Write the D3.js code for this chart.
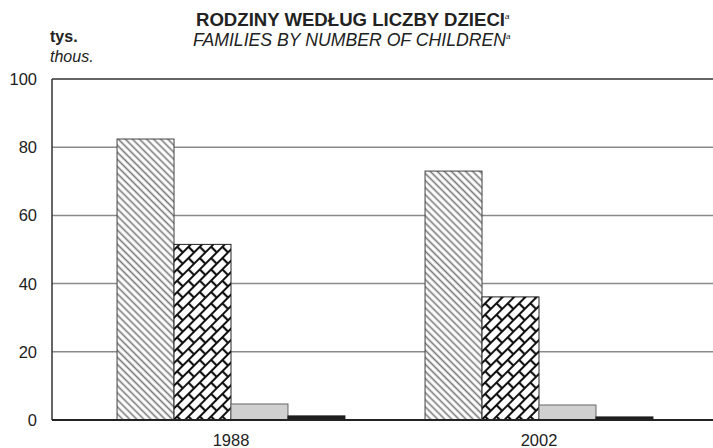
<!DOCTYPE html>
<html>
<head>
<meta charset="utf-8">
<script src="https://cdn.jsdelivr.net/npm/d3@7"></script>
<style>
  body { margin: 0; background: #fff; }
  svg { display: block; font-family: "Liberation Sans", Arial, sans-serif; }
</style>
</head>
<body>
<svg id="chart" width="713" height="448"></svg>
<script>
// data
var years = ['1988', '2002'];
var groups = ['a', 'b', 'c', 'd']; // number-of-children groups (patterns)
var values1988 = [82.4, 51.5, 4.7, 1.2];
var values2002 = [73.0, 36.1, 4.4, 0.9];
var yTicks = [0, 20, 40, 60, 80, 100];

var svg = d3.select('#chart');
var W = 713, H = 448;
var plotLeft = 52, plotTop = 79, plotBottom = 420;

var y = d3.scaleLinear().domain([0, 100]).range([plotBottom, plotTop]);
var x0 = d3.scaleBand().domain(years).range([77, 693]).paddingInner(0.26).paddingOuter(0.13);
var x1 = d3.scaleBand().domain(groups).range([0, x0.bandwidth()]);

// patterns
var defs = svg.append('defs');
var hatch = defs.append('pattern')
  .attr('id', 'hatch')
  .attr('patternUnits', 'userSpaceOnUse')
  .attr('width', 5).attr('height', 5)
  .attr('patternTransform', 'rotate(45)');
hatch.append('rect').attr('width', 5).attr('height', 5).attr('fill', '#fff');
hatch.append('line')
  .attr('x1', 0).attr('y1', 2.5).attr('x2', 5).attr('y2', 2.5)
  .attr('stroke', '#777').attr('stroke-width', 1.6);

var brick = defs.append('pattern')
  .attr('id', 'brick')
  .attr('patternUnits', 'userSpaceOnUse')
  .attr('width', 16).attr('height', 16)
  .attr('patternTransform', 'rotate(-45)');
brick.append('rect').attr('width', 16).attr('height', 16).attr('fill', '#fff');
brick.append('path')
  .attr('d', 'M0,1 H16 M0,9 H16 M4,1 V9 M12,9 V17')
  .attr('stroke', '#111').attr('stroke-width', 2.2).attr('fill', 'none');

var fills = { a: 'url(#hatch)', b: 'url(#brick)', c: '#d0d0d0', d: '#1e1e1e' };
var strokes = { a: '#444', b: '#222', c: '#666', d: '#1e1e1e' };

// grid
svg.append('g').selectAll('line')
  .data(yTicks.filter(function(d){ return d > 0 && d < 100; }))
  .enter().append('line')
  .attr('x1', plotLeft).attr('x2', W)
  .attr('y1', function(d){ return y(d); })
  .attr('y2', function(d){ return y(d); })
  .attr('stroke', '#8a8a8a').attr('stroke-width', 1.5);

// top line
svg.append('line')
  .attr('x1', plotLeft).attr('x2', W)
  .attr('y1', y(100)).attr('y2', y(100))
  .attr('stroke', '#666').attr('stroke-width', 2);

// bars
var data = [
  { year: '1988', values: values1988 },
  { year: '2002', values: values2002 }
];
var g = svg.append('g').selectAll('g')
  .data(data).enter().append('g')
  .attr('transform', function(d){ return 'translate(' + x0(d.year) + ',0)'; });

g.selectAll('rect')
  .data(function(d){ return d.values.map(function(v, i){ return { key: groups[i], value: v }; }); })
  .enter().append('rect')
  .attr('x', function(d){ return x1(d.key); })
  .attr('y', function(d){ return y(d.value); })
  .attr('width', x1.bandwidth())
  .attr('height', function(d){ return y(0) - y(d.value); })
  .attr('fill', function(d){ return fills[d.key]; })
  .attr('stroke', function(d){ return strokes[d.key]; })
  .attr('stroke-width', 1);

// axes lines
svg.append('line')
  .attr('x1', plotLeft).attr('x2', plotLeft)
  .attr('y1', y(100)).attr('y2', y(0))
  .attr('stroke', '#333').attr('stroke-width', 1.5);
svg.append('line')
  .attr('x1', plotLeft).attr('x2', W)
  .attr('y1', y(0)).attr('y2', y(0))
  .attr('stroke', '#222').attr('stroke-width', 2);

// y tick labels
svg.append('g').selectAll('text')
  .data(yTicks).enter().append('text')
  .attr('x', 37)
  .attr('y', function(d){ return y(d) + 6; })
  .attr('text-anchor', 'end')
  .attr('font-size', 16.5)
  .attr('fill', '#222')
  .text(function(d){ return d; });

// x labels
svg.append('g').selectAll('text')
  .data(years).enter().append('text')
  .attr('x', function(d){ return x0(d) + x0.bandwidth() / 2; })
  .attr('y', 446)
  .attr('text-anchor', 'middle')
  .attr('font-size', 16.5)
  .attr('fill', '#222')
  .text(function(d){ return d; });

// titles
var t1 = svg.append('text')
  .attr('x', 196).attr('y', 26)
  .attr('font-size', 18).attr('font-weight', 'bold').attr('fill', '#222');
t1.append('tspan').attr('textLength', 309).attr('lengthAdjust', 'spacingAndGlyphs')
  .text('RODZINY WEDŁUG LICZBY DZIECI');
t1.append('tspan').attr('font-size', 8).attr('font-style', 'italic').attr('font-weight', 'normal')
  .attr('dy', -7).text('a');

var t2 = svg.append('text')
  .attr('x', 193).attr('y', 46)
  .attr('font-size', 18).attr('font-style', 'italic').attr('fill', '#222');
t2.append('tspan').attr('textLength', 313).attr('lengthAdjust', 'spacingAndGlyphs')
  .text('FAMILIES BY NUMBER OF CHILDREN');
t2.append('tspan').attr('font-size', 8)
  .attr('dy', -7).text('a');

svg.append('text')
  .attr('x', 50).attr('y', 42)
  .attr('font-size', 16).attr('font-weight', 'bold').attr('fill', '#222')
  .text('tys.');
svg.append('text')
  .attr('x', 50).attr('y', 62)
  .attr('font-size', 16).attr('font-style', 'italic').attr('fill', '#222')
  .text('thous.');
</script>
</body>
</html>
